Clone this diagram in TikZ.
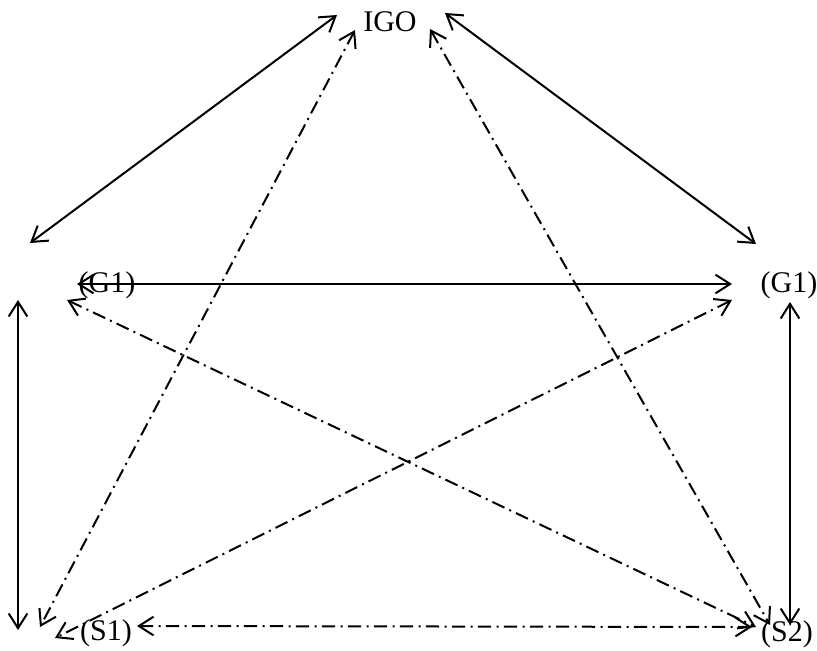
\documentclass[tikz,border=0pt]{standalone}
\usepackage{fontspec}
\setmainfont{Liberation Serif}
\usetikzlibrary{arrows.meta}
\begin{document}
\begin{tikzpicture}[x=0.75pt,y=-0.75pt,
  lbl/.style={inner sep=0pt,font=\fontsize{22.5}{27}\selectfont},
  conn/.style={line width=1.5pt,{Straight Barb[length=11pt,width=14pt,line width=1.5pt]}-{Straight Barb[length=11pt,width=14pt,line width=1.5pt]}},
  dd/.style={conn,dash pattern=on 10pt off 4pt on 1.5pt off 4pt}]
\useasboundingbox (0,0) rectangle (817,650);
\node[lbl] (igo) at (390,22) {IGO};
\node[lbl] (g1l) at (107,285) {(G1)};
\node[lbl] (g1r) at (789,285) {(G1)};
\node[lbl] (s1) at (106,633) {(S1)};
\node[lbl] (s2) at (787,634) {(S2)};
% endpoints
\coordinate (a1) at (337,15);
\coordinate (a2) at (30,243);
\coordinate (b1) at (445,13);
\coordinate (b2) at (756,244);
\coordinate (h1) at (77,284);
\coordinate (h2) at (732,284);
\coordinate (vl1) at (18,300);
\coordinate (vl2) at (18,630);
\coordinate (vr1) at (790,302);
\coordinate (vr2) at (790,625);
\coordinate (c1) at (355,30);
\coordinate (c2) at (40,627);
\coordinate (d1) at (430,29);
\coordinate (d2) at (770,625);
\coordinate (e1) at (732,300);
\coordinate (e2) at (55,638);
\coordinate (f1) at (67,300);
\coordinate (f2) at (756,627);
\coordinate (g1) at (137,626);
\coordinate (g2) at (752,627);
% solid
\draw[conn] (a1) -- (a2);
\draw[conn] (b1) -- (b2);
\draw[conn] (h1) -- (h2);
\draw[conn] (vl1) -- (vl2);
\draw[conn] (vr1) -- (vr2);
% dash-dot
\draw[dd] (c1) -- (c2);
\draw[dd] (d1) -- (d2);
\draw[dd] (e1) -- (e2);
\draw[dd] (f1) -- (f2);
\draw[dd] (g1) -- (g2);
\end{tikzpicture}
\end{document}
